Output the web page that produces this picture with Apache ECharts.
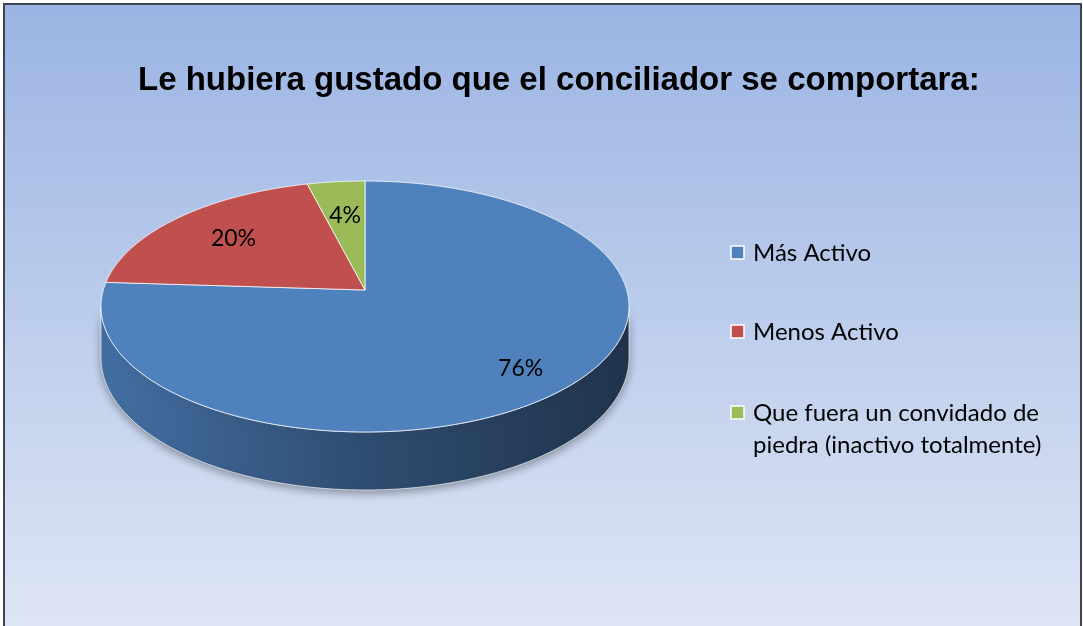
<!DOCTYPE html>
<html>
<head lang="es">
    <meta charset="UTF-8">
    <title>Conciliador</title>
    <style>
        html, body { margin: 0; padding: 0; background: #fff; }
        #main { width: 1083px; height: 626px; }
    </style>
</head>
<body>
<div id="main"></div>
<script src="https://cdn.jsdelivr.net/npm/echarts@6/dist/echarts.min.js"></script>
<script>
    // datos del grafico
    var titleText = 'Le hubiera gustado que el conciliador se comportara:';
    var categories = ['Más Activo', 'Menos Activo', 'Que fuera un convidado de piedra (inactivo totalmente)'];
    var percents = [76, 20, 4];
    var colors = ['#4F81BD', '#C0504D', '#9BBB59'];

    // geometria de la torta 3D (perspectiva)
    var pie = {cx: 365, cy: 290, ax: 261.7, ay: 123.3, persp: 0.1315, depth: 50.4};

    var total = percents.reduce(function (a, b) { return a + b; }, 0);
    var starts = [];
    var acc = 0;
    percents.forEach(function (v) { starts.push(acc); acc += v; });

    function proj(r, ang, drop) {
        var u = r * Math.sin(ang), v = r * Math.cos(ang);
        var den = 1 + pie.persp * v;
        return [pie.cx + pie.ax * u / den, pie.cy - pie.ay * v / den + (drop || 0) / den];
    }

    function arc(a0, a1, drop) {
        var pts = [];
        var n = Math.max(2, Math.ceil((a1 - a0) / 0.01));
        for (var i = 0; i <= n; i++) {
            pts.push(proj(1, a0 + (a1 - a0) * i / n, drop));
        }
        return pts;
    }

    function shade(hex, k) {
        var r = parseInt(hex.substr(1, 2), 16), g = parseInt(hex.substr(3, 2), 16), b = parseInt(hex.substr(5, 2), 16);
        return 'rgb(' + Math.round(r * k) + ',' + Math.round(g * k) + ',' + Math.round(b * k) + ')';
    }

    function renderSlice(params, api) {
        var i = params.dataIndex;
        var val = api.value(0);
        var a0 = starts[i] / total * 2 * Math.PI;
        var a1 = (starts[i] + val) / total * 2 * Math.PI;
        var children = [];

        // pared lateral visible (parte frontal)
        var lo = Math.acos(-pie.persp), hi = 2 * Math.PI - lo;
        var s0 = Math.max(a0, lo), s1 = Math.min(a1, hi);
        if (s1 > s0) {
            var topEdge = arc(s0, s1, 0);
            var bottomEdge = arc(s0, s1, pie.depth).reverse();
            children.push({
                type: 'polygon',
                z2: 1,
                shape: {points: topEdge.concat(bottomEdge)},
                style: {
                    fill: new echarts.graphic.LinearGradient(0, 0, 1, 0, [
                        {offset: 0, color: shade(colors[i], 0.86)},
                        {offset: 0.5, color: shade(colors[i], 0.6)},
                        {offset: 1, color: shade(colors[i], 0.4)}
                    ]),
                    stroke: 'rgba(255,255,255,0.65)',
                    lineWidth: 1,
                    shadowBlur: 8,
                    shadowColor: 'rgba(0,0,0,0.35)',
                    shadowOffsetY: 3
                }
            });
        }

        // cara superior
        children.push({
            type: 'polygon',
            z2: 10,
            shape: {points: [proj(0, 0)].concat(arc(a0, a1, 0))},
            style: {fill: colors[i], stroke: 'rgba(255,255,255,0.75)', lineWidth: 1}
        });

        // etiqueta
        var mid = (a0 + a1) / 2;
        var p = proj(0.65 + 0.2 * val / total, mid);
        children.push({
            type: 'text',
            z2: 20,
            x: p[0],
            y: p[1],
            style: {
                text: val + '%',
                fill: '#000',
                font: '23px Lato',
                align: 'center',
                verticalAlign: 'middle'
            }
        });
        return {type: 'group', children: children};
    }

    // leyenda
    var legendRows = [253, 332, 413];
    var legendGraphics = [];
    categories.forEach(function (name, i) {
        legendGraphics.push({
            type: 'rect',
            z: 5,
            shape: {x: 731, y: legendRows[i] - 7, width: 13, height: 13},
            style: {fill: colors[i], stroke: '#fff', lineWidth: 1.5}
        });
        legendGraphics.push({
            type: 'text',
            z: 5,
            x: 753,
            y: legendRows[i] - 16,
            style: {
                text: name,
                width: 315,
                overflow: 'break',
                lineHeight: 32,
                font: '24px Lato',
                fill: '#000',
                verticalAlign: 'top'
            }
        });
    });

    var myChart = echarts.init(document.getElementById('main'));
    var option = {
        animation: false,
        title: {
            text: titleText,
            left: 133,
            top: 59,
            textStyle: {fontFamily: 'Liberation Sans', fontWeight: 'bold', fontSize: 33, color: '#000'}
        },
        graphic: [{
            type: 'rect',
            z: -10,
            shape: {x: 4, y: 4, width: 1077, height: 640},
            style: {
                fill: new echarts.graphic.LinearGradient(0, 0, 0, 1, [
                    {offset: 0, color: '#9AB4E3'},
                    {offset: 1, color: '#E0E7F5'}
                ]),
                stroke: '#3E4350',
                lineWidth: 2
            }
        }].concat(legendGraphics),
        series: [{
            type: 'custom',
            coordinateSystem: 'none',
            renderItem: renderSlice,
            data: percents.map(function (v, i) { return {value: v, name: categories[i]}; })
        }]
    };
    myChart.setOption(option);
</script>
</body>
</html>
